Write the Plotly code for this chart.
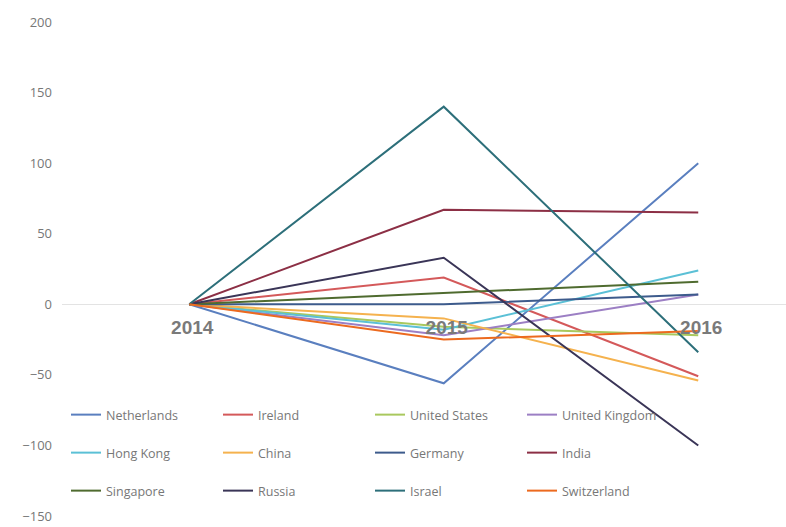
import plotly.graph_objects as go

years = ["2014", "2015", "2016"]
countries = ["Netherlands", "Ireland", "United States", "United Kingdom",
             "Hong Kong", "China", "Germany", "India",
             "Singapore", "Russia", "Israel", "Switzerland"]
netherlands = [0, -56, 100]
ireland = [0, 19, -51]
united_states = [0, -16, -22]
united_kingdom = [0, -22, 7]
hong_kong = [0, -18, 24]
china = [0, -10, -54]
germany = [0, 0, 7]
india = [0, 67, 65]
singapore = [0, 8, 16]
russia = [0, 33, -100]
israel = [0, 140, -34]
switzerland = [0, -25, -19]
series = [netherlands, ireland, united_states, united_kingdom, hong_kong, china,
          germany, india, singapore, russia, israel, switzerland]
colors = ["#5a7fbf", "#d4595a", "#a9c85e", "#9c7fc4", "#5bc0d6", "#f5b24e",
          "#3d5b8c", "#8c2f45", "#4f6b2f", "#3a3557", "#2d6f7a", "#ec6a1f"]

W, H = 786, 527
ml, mr, mt, mb = 62, 0, 22, 11
pw = W - ml - mr
ph = H - mt - mb
legend_names = ["legend", "legend2", "legend3"]

fig = go.Figure()
for i, (name, vals, col) in enumerate(zip(countries, series, colors)):
    fig.add_trace(go.Scatter(
        x=years, y=vals, mode="lines", name=name,
        line=dict(color=col, width=2),
        legend=legend_names[i // 4],
    ))

row_y = [415, 453, 491]
leg_common = dict(orientation="h", entrywidth=107, entrywidthmode="pixels",
                  x=4 / pw, xanchor="left", yanchor="middle",
                  font=dict(family="Open Sans", size=12.5, color="#777777"),
                  bgcolor="rgba(0,0,0,0)", itemwidth=30)

layout_legends = {}
for name, yy in zip(legend_names, row_y):
    layout_legends[name] = dict(leg_common, y=(H - mb - yy) / ph)

fig.update_layout(
    width=W, height=H,
    margin=dict(l=ml, r=mr, t=mt, b=mb),
    paper_bgcolor="white", plot_bgcolor="white",
    showlegend=True,
    **layout_legends,
    xaxis=dict(
        type="category", range=[-0.5, pw / 254.5 - 0.5],
        showgrid=False, zeroline=False, showline=False,
        anchor="free", position=150 / 350,
        ticks="", ticklabelstandoff=10, ticklabelshift=3,
        tickfont=dict(family="Liberation Sans", size=19, color="#7a7a7a", weight="bold"),
    ),
    yaxis=dict(
        range=[-150, 200], dtick=50, showgrid=False,
        zeroline=True, zerolinecolor="#e3e3e3", zerolinewidth=1,
        showline=False, ticks="", ticklabelstandoff=9,
        tickfont=dict(family="Open Sans", size=13, color="#777777"),
    ),
)

fig.write_html("out.html")
